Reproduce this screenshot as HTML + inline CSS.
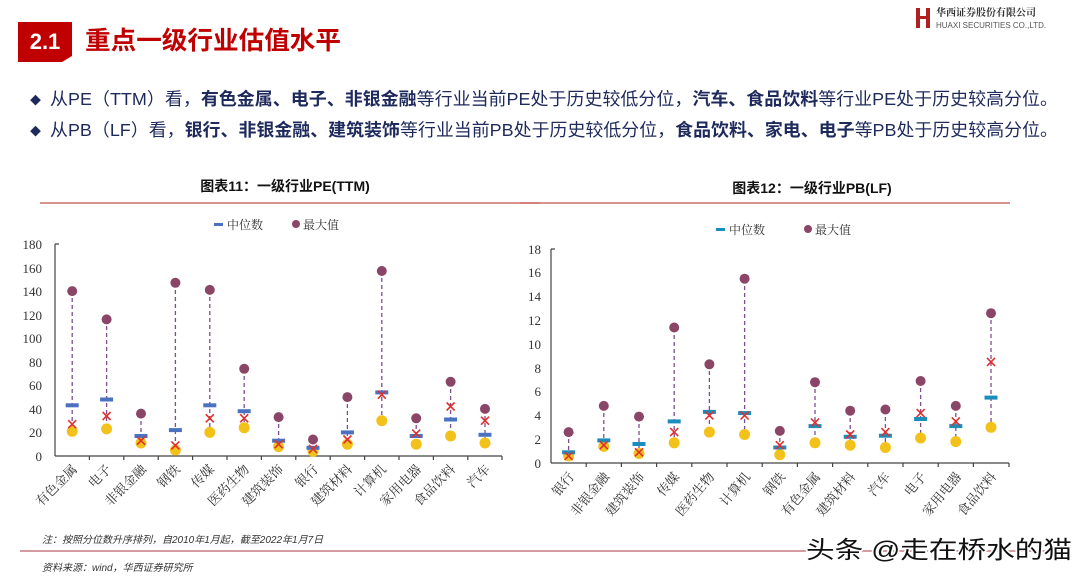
<!DOCTYPE html>
<html><head><meta charset="utf-8"><style>
body{margin:0;width:1080px;height:578px;background:#fff;overflow:hidden;font-family:"Liberation Sans","Noto Sans CJK SC",sans-serif}
svg{display:block}
</style></head><body>
<svg width="1080" height="578" viewBox="0 0 1080 578" xmlns="http://www.w3.org/2000/svg">
<!-- header -->
<polygon points="18,22 72,22 72,56 62,62 18,62" fill="#c00000"/>
<text x="45" y="49" font-size="22" font-weight="bold" fill="#fff" text-anchor="middle">2.1</text>
<text x="85" y="49" font-size="25" font-weight="bold" fill="#c00000" textLength="256" lengthAdjust="spacingAndGlyphs">重点一级行业估值水平</text>
<rect x="916" y="8" width="4" height="20" fill="#b02020"/><rect x="926" y="8" width="4" height="20" fill="#b02020"/><rect x="918" y="16" width="10" height="3" fill="#b02020"/>
<text x="936" y="16" font-size="10" font-weight="bold" fill="#333" font-family="'Noto Serif CJK SC',serif">华西证券股份有限公司</text>
<text x="936" y="28" font-size="8" fill="#555">HUAXI SECURITIES CO.,LTD.</text>
<g font-size="17.5" fill="#1f2a5c">
<text x="30" y="104" font-size="11">◆</text>
<text x="50" y="105" textLength="1008" lengthAdjust="spacingAndGlyphs">从PE（TTM）看，<tspan font-weight="bold">有色金属、电子、非银金融</tspan>等行业当前PE处于历史较低分位，<tspan font-weight="bold">汽车、食品饮料</tspan>等行业PE处于历史较高分位。</text>
<text x="30" y="135" font-size="11">◆</text>
<text x="50" y="136" textLength="1008" lengthAdjust="spacingAndGlyphs">从PB（LF）看，<tspan font-weight="bold">银行、非银金融、建筑装饰</tspan>等行业当前PB处于历史较低分位，<tspan font-weight="bold">食品饮料、家电、电子</tspan>等PB处于历史较高分位。</text>
</g>
<!-- chart titles -->
<text x="285" y="191" font-size="14" font-weight="bold" text-anchor="middle" fill="#111">图表11：一级行业PE(TTM)</text>
<text x="812" y="193" font-size="14" font-weight="bold" text-anchor="middle" fill="#111">图表12：一级行业PB(LF)</text>
<line x1="40" y1="203" x2="540" y2="203" stroke="#c0504d" stroke-width="1.2"/>
<line x1="520" y1="203" x2="1010" y2="203" stroke="#c0504d" stroke-width="1.2"/>
<!-- legends -->
<rect x="214" y="223" width="9" height="3" fill="#4a72c0"/><text x="227" y="229" font-size="12" fill="#333" font-family="'Noto Serif CJK SC',serif">中位数</text>
<circle cx="296" cy="224" r="4" fill="#8b4566"/><text x="303" y="229" font-size="12" fill="#333" font-family="'Noto Serif CJK SC',serif">最大值</text>
<rect x="716" y="228" width="9" height="3" fill="#1b8dbd"/><text x="729" y="234" font-size="12" fill="#333" font-family="'Noto Serif CJK SC',serif">中位数</text>
<circle cx="808" cy="229" r="4" fill="#8b4566"/><text x="815" y="234" font-size="12" fill="#333" font-family="'Noto Serif CJK SC',serif">最大值</text>
<!-- left axes -->
<g font-family="'Liberation Serif',serif" font-size="13" fill="#333" text-anchor="end">
<text x="42" y="461">0</text><text x="42" y="437">20</text><text x="42" y="414">40</text><text x="42" y="390">60</text><text x="42" y="367">80</text><text x="42" y="343">100</text><text x="42" y="320">120</text><text x="42" y="296">140</text><text x="42" y="273">160</text><text x="42" y="249">180</text>
</g>
<g stroke="#444" stroke-width="1.2"><line x1="55" y1="244" x2="55" y2="456"/><line x1="55" y1="456" x2="502" y2="456"/>
<path d="M55,244h4M89.4,456v4M123.8,456v4M158.2,456v4M192.6,456v4M227,456v4M261.4,456v4M295.8,456v4M330.2,456v4M364.6,456v4M399,456v4M433.4,456v4M467.8,456v4M502,456v4"/></g>
<g stroke="#7d4f90" stroke-width="1.3" stroke-dasharray="4,3">
<line x1="72.2" y1="291" x2="72.2" y2="431"/><line x1="106.6" y1="319" x2="106.6" y2="429"/><line x1="141" y1="414" x2="141" y2="443"/><line x1="175.4" y1="283" x2="175.4" y2="450"/><line x1="209.8" y1="290" x2="209.8" y2="432"/><line x1="244.2" y1="369" x2="244.2" y2="428"/><line x1="278.6" y1="417" x2="278.6" y2="447"/><line x1="313" y1="440" x2="313" y2="451"/><line x1="347.4" y1="397" x2="347.4" y2="444"/><line x1="381.8" y1="271" x2="381.8" y2="421"/><line x1="416.2" y1="418" x2="416.2" y2="444"/><line x1="450.6" y1="382" x2="450.6" y2="436"/><line x1="485" y1="409" x2="485" y2="443"/>
</g>
<g>
<circle cx="72.2" cy="291.1" r="5" fill="#8b4566"/><circle cx="106.6" cy="319.4" r="5" fill="#8b4566"/><circle cx="141" cy="413.6" r="5" fill="#8b4566"/><circle cx="175.4" cy="282.8" r="5" fill="#8b4566"/><circle cx="209.8" cy="289.9" r="5" fill="#8b4566"/><circle cx="244.2" cy="368.8" r="5" fill="#8b4566"/><circle cx="278.6" cy="417.1" r="5" fill="#8b4566"/><circle cx="313" cy="439.5" r="5" fill="#8b4566"/><circle cx="347.4" cy="397.1" r="5" fill="#8b4566"/><circle cx="381.8" cy="271" r="5" fill="#8b4566"/><circle cx="416.2" cy="418.3" r="5" fill="#8b4566"/><circle cx="450.6" cy="381.8" r="5" fill="#8b4566"/><circle cx="485" cy="408.9" r="5" fill="#8b4566"/>
<g fill="#f2c21b"><circle cx="72.2" cy="431.3" r="5.5"/><circle cx="106.6" cy="428.9" r="5.5"/><circle cx="141" cy="443" r="5.5"/><circle cx="175.4" cy="450.1" r="5.5"/><circle cx="209.8" cy="432.4" r="5.5"/><circle cx="244.2" cy="427.7" r="5.5"/><circle cx="278.6" cy="446.6" r="5.5"/><circle cx="313" cy="451.3" r="5.5"/><circle cx="347.4" cy="444.2" r="5.5"/><circle cx="381.8" cy="420.7" r="5.5"/><circle cx="416.2" cy="444.2" r="5.5"/><circle cx="450.6" cy="436" r="5.5"/><circle cx="485" cy="443" r="5.5"/></g>
<g fill="#4a72c0"><rect x="65.7" y="403.3" width="13" height="4"/><rect x="100.1" y="397.5" width="13" height="4"/><rect x="134.5" y="434" width="13" height="4"/><rect x="168.9" y="428.1" width="13" height="4"/><rect x="203.3" y="403.3" width="13" height="4"/><rect x="237.7" y="409.2" width="13" height="4"/><rect x="272.1" y="438.7" width="13" height="4"/><rect x="306.5" y="445.8" width="13" height="4"/><rect x="340.9" y="430.4" width="13" height="4"/><rect x="375.3" y="390.4" width="13" height="4"/><rect x="409.7" y="434" width="13" height="4"/><rect x="444.1" y="417.5" width="13" height="4"/><rect x="478.5" y="432.8" width="13" height="4"/></g>
<g stroke="#e0302e" stroke-width="1.6" fill="none"><path d="M68.2,420.2l8,8m0,-8l-8,8M102.6,412l8,8m0,-8l-8,8M137,436.7l8,8m0,-8l-8,8M171.4,441.4l8,8m0,-8l-8,8M205.8,414.3l8,8m0,-8l-8,8M240.2,414.3l8,8m0,-8l-8,8M274.6,440.2l8,8m0,-8l-8,8M309,444.9l8,8m0,-8l-8,8M343.4,435.5l8,8m0,-8l-8,8M377.8,390.7l8,8m0,-8l-8,8M412.2,429.6l8,8m0,-8l-8,8M446.6,402.5l8,8m0,-8l-8,8M481,416.7l8,8m0,-8l-8,8"/></g>
</g>
<!-- left labels -->
<g font-size="13" fill="#333" font-family="'Noto Serif CJK SC',serif" text-anchor="end">
<text transform="translate(78,470) rotate(-45)">有色金属</text><text transform="translate(112,470) rotate(-45)">电子</text><text transform="translate(147,470) rotate(-45)">非银金融</text><text transform="translate(181,470) rotate(-45)">钢铁</text><text transform="translate(215,470) rotate(-45)">传媒</text><text transform="translate(250,470) rotate(-45)">医药生物</text><text transform="translate(284,470) rotate(-45)">建筑装饰</text><text transform="translate(319,470) rotate(-45)">银行</text><text transform="translate(353,470) rotate(-45)">建筑材料</text><text transform="translate(387,470) rotate(-45)">计算机</text><text transform="translate(422,470) rotate(-45)">家用电器</text><text transform="translate(456,470) rotate(-45)">食品饮料</text><text transform="translate(491,470) rotate(-45)">汽车</text>
</g>
<!-- right axes -->
<g font-family="'Liberation Serif',serif" font-size="13" fill="#333" text-anchor="end">
<text x="541" y="468">0</text><text x="541" y="444">2</text><text x="541" y="420">4</text><text x="541" y="396">6</text><text x="541" y="373">8</text><text x="541" y="349">10</text><text x="541" y="325">12</text><text x="541" y="301">14</text><text x="541" y="277">16</text><text x="541" y="254">18</text>
</g>
<g stroke="#444" stroke-width="1.2"><line x1="551" y1="249" x2="551" y2="463"/><line x1="551" y1="463" x2="1009" y2="463"/>
<path d="M551,249h4M586.2,463v4M621.4,463v4M656.6,463v4M691.8,463v4M727,463v4M762.2,463v4M797.4,463v4M832.6,463v4M867.8,463v4M903,463v4M938.2,463v4M973.4,463v4M1009,463v4"/></g>
<g stroke="#7d4f90" stroke-width="1.3" stroke-dasharray="4,3">
<line x1="568.6" y1="432" x2="568.6" y2="456"/><line x1="603.8" y1="406" x2="603.8" y2="446"/><line x1="639" y1="417" x2="639" y2="453"/><line x1="674.2" y1="328" x2="674.2" y2="443"/><line x1="709.4" y1="364" x2="709.4" y2="432"/><line x1="744.6" y1="279" x2="744.6" y2="434"/><line x1="779.8" y1="431" x2="779.8" y2="455"/><line x1="815" y1="382" x2="815" y2="443"/><line x1="850.2" y1="411" x2="850.2" y2="445"/><line x1="885.4" y1="410" x2="885.4" y2="447"/><line x1="920.6" y1="381" x2="920.6" y2="438"/><line x1="955.8" y1="406" x2="955.8" y2="442"/><line x1="991" y1="313" x2="991" y2="427"/>
</g>
<g fill="#8b4566"><circle cx="568.6" cy="432.1" r="5"/><circle cx="603.8" cy="405.9" r="5"/><circle cx="639" cy="416.6" r="5"/><circle cx="674.2" cy="327.5" r="5"/><circle cx="709.4" cy="364.3" r="5"/><circle cx="744.6" cy="278.7" r="5"/><circle cx="779.8" cy="430.9" r="5"/><circle cx="815" cy="382.2" r="5"/><circle cx="850.2" cy="410.7" r="5"/><circle cx="885.4" cy="409.5" r="5"/><circle cx="920.6" cy="381" r="5"/><circle cx="955.8" cy="405.9" r="5"/><circle cx="991" cy="313.2" r="5"/></g>
<g fill="#f2c21b"><circle cx="568.6" cy="455.9" r="5.5"/><circle cx="603.8" cy="446.4" r="5.5"/><circle cx="639" cy="453.5" r="5.5"/><circle cx="674.2" cy="442.8" r="5.5"/><circle cx="709.4" cy="432.1" r="5.5"/><circle cx="744.6" cy="434.5" r="5.5"/><circle cx="779.8" cy="454.7" r="5.5"/><circle cx="815" cy="442.8" r="5.5"/><circle cx="850.2" cy="445.2" r="5.5"/><circle cx="885.4" cy="447.5" r="5.5"/><circle cx="920.6" cy="438" r="5.5"/><circle cx="955.8" cy="441.6" r="5.5"/><circle cx="991" cy="427.3" r="5.5"/></g>
<g fill="#1b8dbd"><rect x="562.1" y="450.3" width="13" height="4"/><rect x="597.3" y="438.4" width="13" height="4"/><rect x="632.5" y="442" width="13" height="4"/><rect x="667.7" y="419.4" width="13" height="4"/><rect x="702.9" y="409.9" width="13" height="4"/><rect x="738.1" y="411.1" width="13" height="4"/><rect x="773.3" y="445.5" width="13" height="4"/><rect x="808.5" y="424.1" width="13" height="4"/><rect x="843.7" y="434.8" width="13" height="4"/><rect x="878.9" y="433.7" width="13" height="4"/><rect x="914.1" y="417" width="13" height="4"/><rect x="949.3" y="424.1" width="13" height="4"/><rect x="984.5" y="395.6" width="13" height="4"/></g>
<g stroke="#e0302e" stroke-width="1.6" fill="none"><path d="M564.6,451.9l8,8m0,-8l-8,8M599.8,441.2l8,8m0,-8l-8,8M635,448.3l8,8m0,-8l-8,8M670.2,428.1l8,8m0,-8l-8,8M705.4,411.4l8,8m0,-8l-8,8M740.6,411.4l8,8m0,-8l-8,8M775.8,441.2l8,8m0,-8l-8,8M811,418.6l8,8m0,-8l-8,8M846.2,430.5l8,8m0,-8l-8,8M881.4,428.1l8,8m0,-8l-8,8M916.6,409.1l8,8m0,-8l-8,8M951.8,417.4l8,8m0,-8l-8,8M987,357.9l8,8m0,-8l-8,8"/></g>
<g font-size="13" fill="#333" font-family="'Noto Serif CJK SC',serif" text-anchor="end">
<text transform="translate(575,477) rotate(-50)">银行</text><text transform="translate(610,477) rotate(-50)">非银金融</text><text transform="translate(645,477) rotate(-50)">建筑装饰</text><text transform="translate(680,477) rotate(-50)">传媒</text><text transform="translate(715,477) rotate(-50)">医药生物</text><text transform="translate(751,477) rotate(-50)">计算机</text><text transform="translate(786,477) rotate(-50)">钢铁</text><text transform="translate(821,477) rotate(-50)">有色金属</text><text transform="translate(856,477) rotate(-50)">建筑材料</text><text transform="translate(891,477) rotate(-50)">汽车</text><text transform="translate(927,477) rotate(-50)">电子</text><text transform="translate(962,477) rotate(-50)">家用电器</text><text transform="translate(997,477) rotate(-50)">食品饮料</text>
</g>
<!-- footer -->
<text x="42" y="543" font-size="10" font-style="italic" fill="#333">注：按照分位数升序排列，自2010年1月起，截至2022年1月7日</text>
<line x1="20" y1="551" x2="1065" y2="551" stroke="#c77a80" stroke-width="1.5"/>
<text x="42" y="571" font-size="10" font-style="italic" fill="#333">资料来源：wind，华西证券研究所</text>
<text x="806" y="558" font-size="24" fill="#111" stroke="#fff" stroke-width="3" paint-order="stroke" textLength="266" lengthAdjust="spacingAndGlyphs">头条 @走在桥水的猫</text>
</svg>
</body></html>
